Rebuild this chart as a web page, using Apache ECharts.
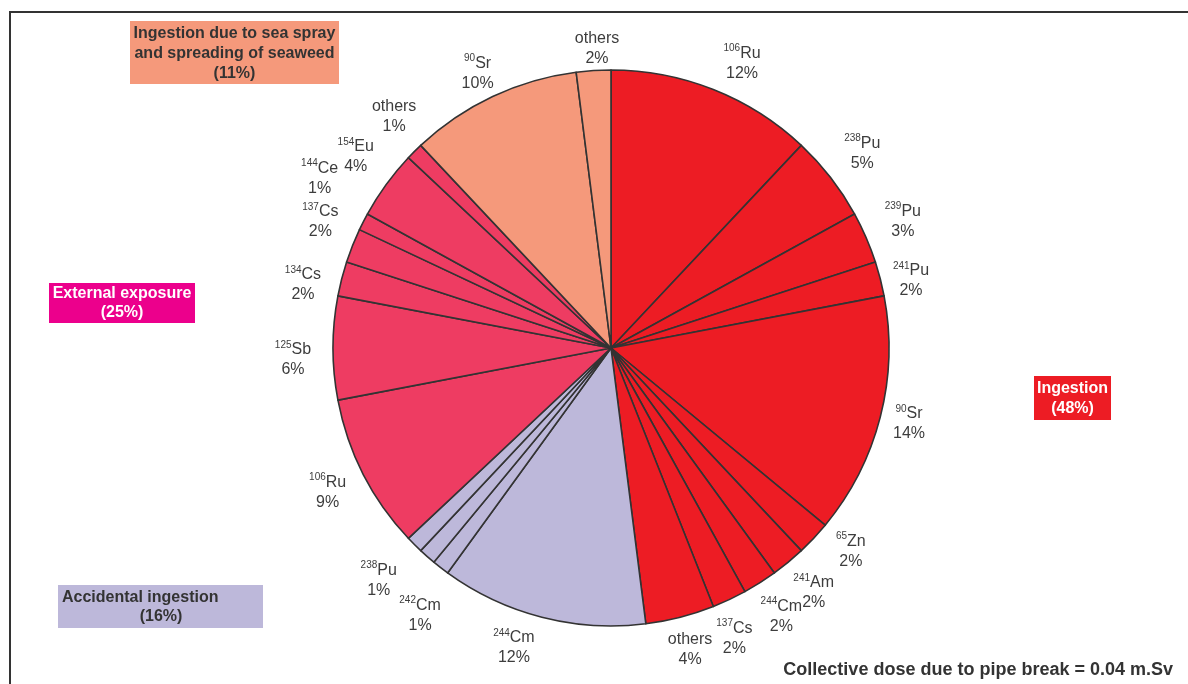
<!DOCTYPE html>
<html>
<head>
<meta charset="utf-8">
<title>Collective dose due to pipe break</title>
<script src="https://cdn.jsdelivr.net/npm/echarts@6/dist/echarts.min.js"></script>
<style>
  html, body { margin: 0; padding: 0; background: #fff; }
  #chart { width: 1188px; height: 684px; }
</style>
</head>
<body>
<div id="chart"></div>
<script>
// Dose contributions (%) by pathway, clockwise from 12 o'clock.
// Nuclide names are split into mass number (superscript) and element.
const ingestionIso   = ['106', '238', '239', '241', '90', '65', '241', '244', '137', ''];
const ingestionEl    = ['Ru', 'Pu', 'Pu', 'Pu', 'Sr', 'Zn', 'Am', 'Cm', 'Cs', 'others'];
const ingestionPct   = [12, 5, 3, 2, 14, 2, 2, 2, 2, 4];

const accidentalIso  = ['244', '242', '238', ''];
const accidentalEl   = ['Cm', 'Cm', 'Pu', ''];
const accidentalPct  = [12, 1, 1, 1];

const externalIso    = ['106', '125', '134', '137', '144', '154', ''];
const externalEl     = ['Ru', 'Sb', 'Cs', 'Cs', 'Ce', 'Eu', 'others'];
const externalPct    = [9, 6, 2, 2, 1, 4, 1];

const seaSprayIso    = ['90', ''];
const seaSprayEl     = ['Sr', 'others'];
const seaSprayPct    = [10, 2];

const pathwayNames   = ['Ingestion', 'Accidental ingestion', 'External exposure',
                        'Ingestion due to sea spray and spreading of seaweed'];
const pathwayTotals  = [48, 16, 25, 11];
const totalDoseText  = 'Collective dose due to pipe break = 0.04 m.Sv';

const groupColors = ['#ED1C24', '#BDB8DA', '#EE3C62', '#F5997B'];

// small nudges so labels sit clear of each other around the rim
const labelNudge = {
  'ingestion-0': [14, 11],
  'ingestion-3': [-8, 12],
  'ingestion-4': [-10, -3],
  'ingestion-5': [8, -14],
  'ingestion-8': [-12, 3],
  'ingestion-9': [0, -6],
  'accidental-0': [-18, -8],
  'accidental-1': [4, 16],
  'accidental-2': [-22, -6],
  'external-1': [0, 12],
  'external-2': [0, 16],
  'external-3': [5, -9],
  'external-4': [-8, -25],
  'external-5': [2, -4],
  'external-6': [8, -7],
  'seaspray-0': [2, 13],
  'seaspray-1': [6, 18]
};

function buildGroup(key, isos, els, pcts, color) {
  return pcts.map((v, i) => ({
    name: key + '-' + i,
    value: v,
    iso: isos[i],
    el: els[i],
    itemStyle: { color: color }
  }));
}

const slices = [].concat(
  buildGroup('ingestion', ingestionIso, ingestionEl, ingestionPct, groupColors[0]),
  buildGroup('accidental', accidentalIso, accidentalEl, accidentalPct, groupColors[1]),
  buildGroup('external', externalIso, externalEl, externalPct, groupColors[2]),
  buildGroup('seaspray', seaSprayIso, seaSprayEl, seaSprayPct, groupColors[3])
);

// label ring: same values, transparent sectors, labels centred in the ring
const labelRing = slices.map(s => {
  const d = {
    name: s.name,
    value: s.value,
    itemStyle: { color: 'transparent', borderWidth: 0 },
    label: { show: s.el !== '' }
  };
  if (labelNudge[s.name]) d.label.offset = labelNudge[s.name];
  return d;
});

function labelText(p) {
  const s = slices[p.dataIndex];
  const top = s.iso ? '{sup|' + s.iso + '}{el|' + s.el + '}' : '{el|' + s.el + '}';
  return top + '\n{pct|' + s.value + '%}';
}

const center = [611, 348];
const chart = echarts.init(document.getElementById('chart'));

const fontFam = '"Liberation Sans", Arial, sans-serif';

function box(x, y, w, h, fill, lines, textFill, textX, align) {
  const children = [{
    type: 'rect',
    shape: { x: x, y: y, width: w, height: h },
    style: { fill: fill }
  }];
  lines.forEach(ln => {
    children.push({
      type: 'text',
      style: {
        text: ln.t,
        x: ln.x !== undefined ? ln.x : textX,
        y: ln.y,
        fill: textFill,
        font: 'bold 16px ' + fontFam,
        align: ln.align || align,
        verticalAlign: 'middle'
      }
    });
  });
  return { type: 'group', children: children };
}

chart.setOption({
  backgroundColor: '#ffffff',
  animation: false,
  series: [
    {
      type: 'pie',
      center: center,
      radius: [0, 278],
      startAngle: 90,
      clockwise: true,
      silent: true,
      label: { show: false },
      labelLine: { show: false },
      itemStyle: { borderColor: '#333333', borderWidth: 1.6 },
      data: slices
    },
    {
      type: 'pie',
      center: center,
      radius: [300, 330],
      startAngle: 90,
      clockwise: true,
      silent: true,
      avoidLabelOverlap: false,
      labelLayout: { hideOverlap: false },
      labelLine: { show: false },
      label: {
        position: 'inside',
        formatter: labelText,
        color: '#3d3d3d',
        align: 'center',
        rich: {
          sup: { fontSize: 10, fontFamily: fontFam, color: '#3d3d3d', verticalAlign: 'top', padding: [0, 0, 6, 0] },
          el: { fontSize: 16, fontFamily: fontFam, color: '#3d3d3d', lineHeight: 20 },
          pct: { fontSize: 16, fontFamily: fontFam, color: '#3d3d3d', lineHeight: 20 }
        }
      },
      data: labelRing
    }
  ],
  graphic: [
    // frame lines
    { type: 'line', shape: { x1: 9, y1: 12, x2: 1188, y2: 12 }, style: { stroke: '#333333', lineWidth: 2 } },
    { type: 'line', shape: { x1: 10, y1: 11, x2: 10, y2: 684 }, style: { stroke: '#333333', lineWidth: 2 } },
    box(130, 21, 209, 63, groupColors[3], [
      { t: 'Ingestion due to sea spray', y: 34 },
      { t: 'and spreading of seaweed', y: 54 },
      { t: '(' + pathwayTotals[3] + '%)', y: 74 }
    ], '#333333', 234.5, 'center'),
    box(49, 283, 146, 40, '#EC008C', [
      { t: pathwayNames[2], y: 294 },
      { t: '(' + pathwayTotals[2] + '%)', y: 313 }
    ], '#ffffff', 122, 'center'),
    box(1034, 376, 77, 44, groupColors[0], [
      { t: pathwayNames[0], y: 389 },
      { t: '(' + pathwayTotals[0] + '%)', y: 409 }
    ], '#ffffff', 1072.5, 'center'),
    box(58, 585, 205, 43, groupColors[1], [
      { t: pathwayNames[1], y: 598, x: 62, align: 'left' },
      { t: '(' + pathwayTotals[1] + '%)', y: 617, x: 161, align: 'center' }
    ], '#333333', 62, 'left'),
    {
      type: 'text',
      style: {
        text: totalDoseText,
        x: 1173, y: 670,
        align: 'right', verticalAlign: 'middle',
        font: 'bold 18px ' + fontFam,
        fill: '#333333'
      }
    }
  ]
});
</script>
</body>
</html>
